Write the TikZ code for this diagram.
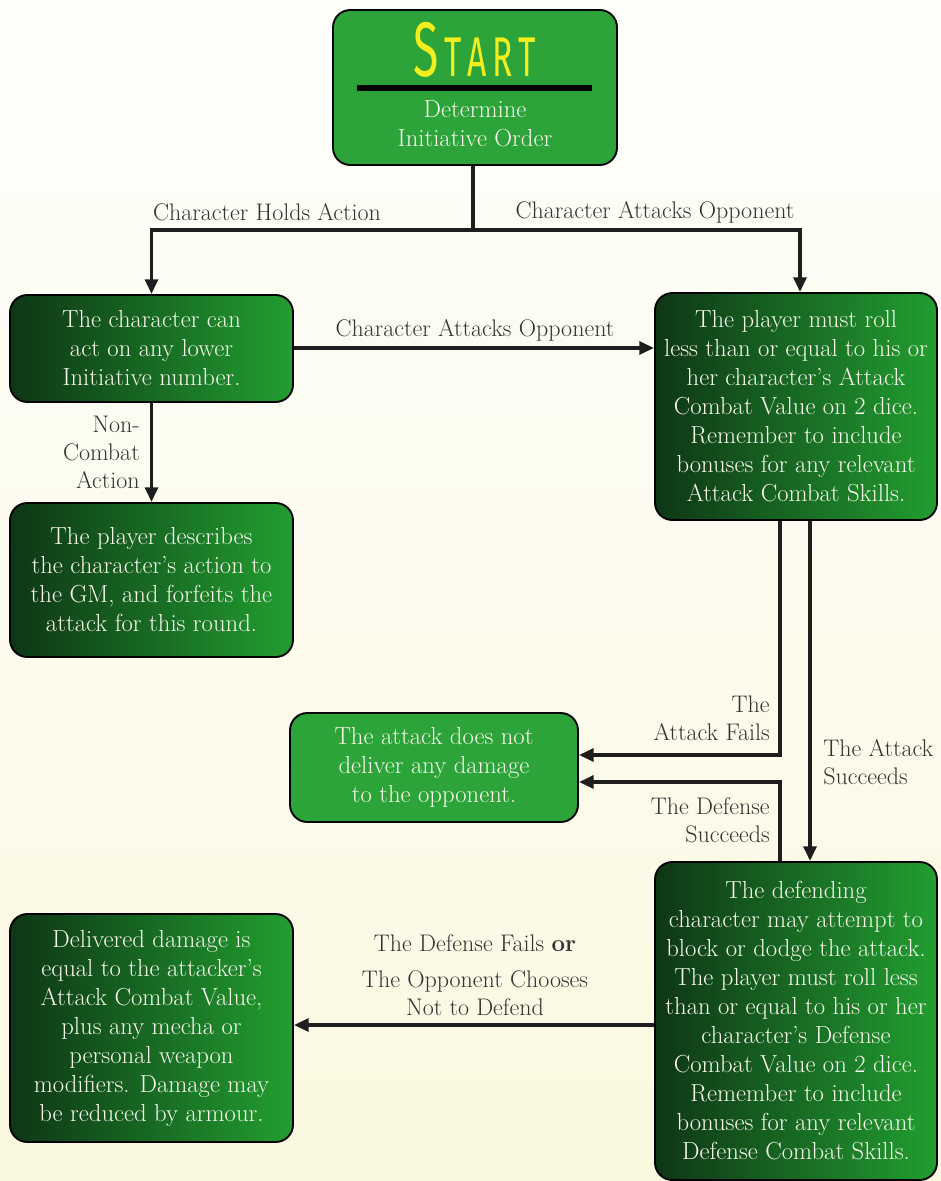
\documentclass[tikz,border=0pt]{standalone}
\usepackage{fontspec}
\usetikzlibrary{arrows.meta}
\newfontfamily\titlefam{Fira Sans}
\definecolor{bgtop}{HTML}{FEFEFB}
\definecolor{bgbot}{HTML}{FBF8E0}
\definecolor{gdark}{HTML}{0E3616}
\definecolor{glight}{HTML}{229E30}
\definecolor{gplain}{HTML}{2CA43A}
\definecolor{boxtext}{HTML}{F8F8EC}
\definecolor{labtext}{HTML}{333333}
\definecolor{linecol}{HTML}{1E1E1E}
\definecolor{titley}{HTML}{F4EE1E}
\newcommand\bxfont{\fontsize{18.5}{21.75}\selectfont}
\newcommand\lbfont{\fontsize{18}{21}\selectfont}
\tikzset{
  box/.style={draw=black, line width=1.4pt, rounded corners=13pt, text=boxtext,
    align=center, font=\bxfont, inner sep=0pt},
  gradbox/.style={box, left color=gdark, right color=glight},
  plainbox/.style={box, fill=gplain},
  conn/.style={draw=linecol, line width=2.8pt},
  arr/.style={conn, -{Triangle[length=11pt,width=9.5pt]}},
  lab/.style={text=labtext, font=\lbfont, inner sep=0pt}
}
\begin{document}
\begin{tikzpicture}[x=0.75pt,y=-0.75pt]
\useasboundingbox (0,0) rectangle (941,1181);
\shade[top color=bgtop, bottom color=bgbot] (0,0) rectangle (941,1181);

% boxes
\node[plainbox, minimum width=284*0.75pt, minimum height=155*0.75pt] (start) at (475,87.5) {};
\node[text=titley, inner sep=0pt] (title) at (475,50)
  {\titlefam\scalebox{0.6}[1]{\fontsize{58}{58}\selectfont S\fontsize{42}{42}\selectfont\,T\,A\,R\,T}};
\draw[line width=3.8pt, black] (357,88) -- (592,88);
\node[text=boxtext, font=\bxfont, align=center, inner sep=0pt] (starttext) at (475,124)
  {Determine\\Initiative Order};

\node[gradbox, minimum width=283*0.75pt, minimum height=107*0.75pt] (A) at (151.5,348.5)
  {The character can\\act on any lower\\Initiative number.};
\node[gradbox, minimum width=282*0.75pt, minimum height=227*0.75pt] (B) at (796,406.5)
  {The player must roll\\less than or equal to his or\\her character's Attack\\Combat Value on 2 dice.\\Remember to include\\bonuses for any relevant\\Attack Combat Skills.};
\node[gradbox, minimum width=283*0.75pt, minimum height=154*0.75pt] (C) at (151.5,580)
  {The player describes\\the character's action to\\the GM, and forfeits the\\attack for this round.};
\node[plainbox, minimum width=288*0.75pt, minimum height=109*0.75pt] (D) at (434,767.5)
  {The attack does not\\deliver any damage\\to the opponent.};
\node[gradbox, minimum width=282*0.75pt, minimum height=318*0.75pt] (E) at (796,1021)
  {The defending\\character may attempt to\\block or dodge the attack.\\The player must roll less\\than or equal to his or her\\character's Defense\\Combat Value on 2 dice.\\Remember to include\\bonuses for any relevant\\Defense Combat Skills.};
\node[gradbox, minimum width=283*0.75pt, minimum height=228*0.75pt] (F) at (151.5,1028)
  {Delivered damage is\\equal to the attacker's\\Attack Combat Value,\\plus any mecha or\\personal weapon\\modifiers. Damage may\\be reduced by armour.};

% helper coordinates
\coordinate (split) at (473,230);
\coordinate (bl) at (780,0);
\coordinate (br) at (810,0);
\coordinate (d1) at (0,755);
\coordinate (d2) at (0,782);
\coordinate (f1) at (0,1025);
\coordinate (a1) at (0,348);

% connectors
\draw[conn] (start.south -| split) -- (split);
\draw[arr] (split) -| (A.north);
\draw[arr] (split) -| (B.north -| 800,0);
\draw[arr] (A.east |- a1) -- (B.west |- a1);
\draw[arr] (A.south) -- (C.north);
\draw[arr] (B.south -| bl) |- (D.east |- d1);
\draw[arr] (E.north -| bl) |- (D.east |- d2);
\draw[arr] (B.south -| br) -- (E.north -| br);
\draw[arr] (E.west |- f1) -- (F.east |- f1);

% labels
\node[lab] (l1) at (267,212) {Character Holds Action};
\node[lab] (l2) at (655,212) {Character Attacks Opponent};
\node[lab] (l3) at (475,330) {Character Attacks Opponent};
\node[lab, align=right, anchor=east] (l4) at (140,452) {Non-\\Combat\\Action};
\node[lab, align=right, anchor=east] (l5) at (770,718) {The\\Attack Fails};
\node[lab, align=right, anchor=east] (l6) at (770,820) {The Defense\\Succeeds};
\node[lab, align=left, anchor=west] (l7) at (823,762) {The Attack\\Succeeds};
\node[lab, align=center] (l8) at (475,975) {The Defense Fails \textbf{or}\\[6pt]The Opponent Chooses\\Not to Defend};
\end{tikzpicture}
\end{document}
